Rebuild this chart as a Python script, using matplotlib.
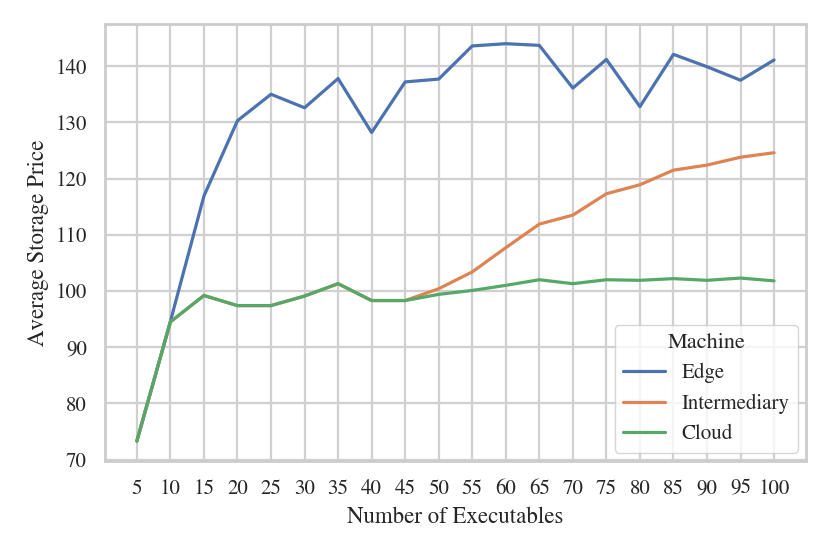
import matplotlib
matplotlib.use("Agg")
import matplotlib.pyplot as plt
import seaborn as sns
import pandas as pd

executables = [5, 10, 15, 20, 25, 30, 35, 40, 45, 50, 55, 60, 65, 70, 75, 80, 85, 90, 95, 100]
edge = [73.3, 94.6, 116.9, 130.3, 135.0, 132.6, 137.8, 128.2, 137.2, 137.7,
        143.6, 144.0, 143.7, 136.1, 141.2, 132.8, 142.1, 139.9, 137.5, 141.1]
intermediary = [73.3, 94.5, 99.2, 97.4, 97.4, 99.1, 101.3, 98.3, 98.3, 100.4,
                103.4, 107.7, 111.9, 113.5, 117.3, 118.9, 121.5, 122.4, 123.8, 124.6]
cloud = [73.3, 94.5, 99.2, 97.4, 97.4, 99.1, 101.3, 98.3, 98.3, 99.4,
         100.1, 101.0, 102.0, 101.3, 102.0, 101.9, 102.2, 101.9, 102.3, 101.8]
machines = ["Edge", "Intermediary", "Cloud"]

rows = []
for name, vals in zip(machines, [edge, intermediary, cloud]):
    for x, v in zip(executables, vals):
        rows.append({"Number of Executables": x, "Average Storage Price": v, "Machine": name})
df = pd.DataFrame(rows)

sns.set_theme(style="whitegrid", rc={"grid.linewidth": 1.6, "grid.color": "#d0d0d0",
                                      "axes.edgecolor": "#cccccc", "axes.linewidth": 2.0})
plt.rcParams['font.family'] = ['STIXGeneral', 'DejaVu Serif']

fig = plt.figure(figsize=(8.3, 5.54), dpi=100)
ax = fig.add_axes([0.1265, 0.168, 0.8445, 0.789])
sns.lineplot(data=df, x="Number of Executables", y="Average Storage Price",
             hue="Machine", ax=ax, linewidth=2.3)
ax.set_xticks(executables)
ax.tick_params(labelsize=15, pad=7)
ax.set_xlabel("Number of Executables", fontsize=16.5, labelpad=6)
ax.set_ylabel("Average Storage Price", fontsize=16.5, labelpad=5)
leg = ax.legend(title="Machine", loc="lower right", fontsize=15, title_fontsize=16,
                borderaxespad=0.4)
fig.savefig("out.png", dpi=100)
